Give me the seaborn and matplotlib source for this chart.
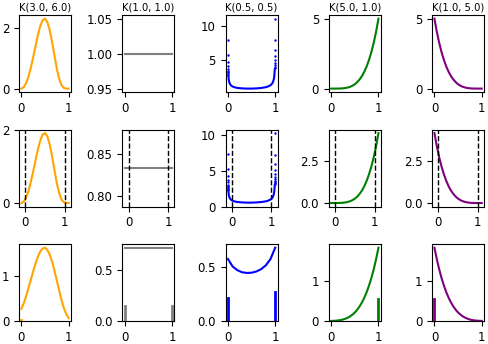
import numpy as np
import seaborn as sns
import matplotlib
matplotlib.use("Agg")
import matplotlib.pyplot as plt

# panel titles (top row only)
titles = ["K(3.0, 6.0)", "K(1.0, 1.0)", "K(0.5, 0.5)", "K(5.0, 1.0)", "K(1.0, 5.0)"]
colors = ["orange", "gray", "blue", "green", "purple"]

# sample positions
x_unit = [0, 0.05, 0.1, 0.15, 0.2, 0.25, 0.3, 0.35, 0.4, 0.45, 0.5,
          0.55, 0.6, 0.65, 0.7, 0.75, 0.8, 0.85, 0.9, 0.95, 1.0]
x_stretch = [-0.1, -0.04, 0.02, 0.08, 0.14, 0.2, 0.26, 0.32, 0.38, 0.44, 0.5,
             0.56, 0.62, 0.68, 0.74, 0.8, 0.86, 0.92, 0.98, 1.04, 1.1]

# row 1: plain densities
k36_pdf = [0, 0.045, 0.18, 0.40, 0.69, 1.04, 1.41, 1.77, 2.07, 2.26, 2.31,
           2.19, 1.92, 1.53, 1.08, 0.65, 0.32, 0.11, 0.02, 0.0, 0]
k51_pdf = [0, 0, 0.0005, 0.0025, 0.008, 0.02, 0.04, 0.075, 0.128, 0.205, 0.31,
           0.46, 0.65, 0.89, 1.20, 1.58, 2.05, 2.61, 3.28, 4.07, 5.0]
k15_pdf = [5.0, 4.07, 3.28, 2.61, 2.05, 1.58, 1.20, 0.89, 0.65, 0.46, 0.31,
           0.205, 0.128, 0.075, 0.04, 0.02, 0.008, 0.0025, 0.0005, 0, 0]
k11_x = [0, 1]
k11_pdf = [1.0, 1.0]

# K(0.5, 0.5): smooth middle part plus separated dots near the ends
u_mid_x = [0.01, 0.02, 0.03, 0.05, 0.075, 0.1, 0.15, 0.2, 0.3, 0.4, 0.5,
           0.6, 0.7, 0.8, 0.85, 0.9, 0.93, 0.95, 0.97, 0.98, 0.99]
u_mid_y = [2.64, 1.91, 1.59, 1.27, 1.07, 0.96, 0.83, 0.75, 0.68, 0.65, 0.65,
           0.68, 0.74, 0.86, 0.97, 1.16, 1.37, 1.61, 2.07, 2.52, 3.55]
u_tail_x = [0.001, 0.002, 0.003, 0.004, 0.005, 0.006, 0.007, 0.008, 0.009,
            0.991, 0.992, 0.993, 0.994, 0.995, 0.996, 0.997, 0.998, 0.999]
u_tail_y = [8.03, 5.72, 4.69, 4.08, 3.67, 3.36, 3.12, 2.93, 2.77,
            3.73, 3.95, 4.23, 4.56, 5.00, 5.59, 6.46, 7.91, 11.18]

# row 2: stretched to (-0.1, 1.1)
k36_str = [0, 0.04, 0.15, 0.33, 0.58, 0.87, 1.18, 1.48, 1.72, 1.88, 1.92,
           1.83, 1.60, 1.27, 0.90, 0.54, 0.27, 0.09, 0.02, 0.0, 0]
k51_str = [0, 0, 0, 0.002, 0.007, 0.016, 0.034, 0.063, 0.107, 0.171, 0.26,
           0.38, 0.54, 0.74, 1.0, 1.32, 1.71, 2.18, 2.73, 3.39, 4.17]
k15_str = [4.17, 3.39, 2.73, 2.18, 1.71, 1.32, 1.0, 0.74, 0.54, 0.38, 0.26,
           0.171, 0.107, 0.063, 0.034, 0.016, 0.007, 0.002, 0, 0, 0]
k11_str_x = [-0.1, 1.1]
k11_str = [0.833, 0.833]
s_mid_x = [-0.088, -0.076, -0.064, -0.04, -0.01, 0.02, 0.08, 0.14, 0.26, 0.38, 0.5,
           0.62, 0.74, 0.86, 0.92, 0.98, 1.016, 1.04, 1.064, 1.076, 1.088]
s_mid_y = [2.20, 1.59, 1.32, 1.06, 0.89, 0.80, 0.69, 0.63, 0.57, 0.54, 0.54,
           0.57, 0.62, 0.72, 0.81, 0.97, 1.14, 1.34, 1.72, 2.10, 2.96]
s_tail_x = [-0.099, -0.098, -0.097, -0.096, -0.095, -0.094, -0.093, -0.092, -0.091, -0.090, -0.089,
            1.089, 1.090, 1.091, 1.092, 1.093, 1.094, 1.095, 1.096, 1.097, 1.098, 1.099]
s_tail_y = [7.32, 5.21, 4.28, 3.72, 3.34, 3.06, 2.84, 2.66, 2.52, 2.39, 2.29,
            3.08, 3.23, 3.40, 3.61, 3.86, 4.17, 4.56, 5.10, 5.89, 7.22, 10.21]

# row 3: rectified, density inside (0, 1) plus point masses at the edges
k36_hard = [0.27, 0.39, 0.55, 0.73, 0.91, 1.10, 1.27, 1.42, 1.54, 1.60, 1.62,
            1.57, 1.46, 1.31, 1.11, 0.89, 0.67, 0.46, 0.28, 0.15, 0.065]
k51_hard = [0.001, 0.003, 0.007, 0.013, 0.022, 0.036, 0.055, 0.080, 0.114, 0.157, 0.21,
            0.278, 0.36, 0.458, 0.576, 0.715, 0.878, 1.067, 1.285, 1.535, 1.82]
k15_hard = [1.82, 1.535, 1.285, 1.067, 0.878, 0.715, 0.576, 0.458, 0.36, 0.278, 0.21,
            0.157, 0.114, 0.080, 0.055, 0.036, 0.022, 0.013, 0.007, 0.003, 0.001]
k11_hard = [0.714, 0.714]
k55_hard_x = [0, 0.1, 0.2, 0.3, 0.4, 0.5, 0.6, 0.7, 0.8, 0.9, 1.0]
k55_hard = [0.569, 0.50, 0.466, 0.447, 0.441, 0.443, 0.454, 0.475, 0.51, 0.568, 0.673]
# point masses at 0 and 1 for each column
mass_0 = [0.017, 0.145, 0.21, 0.0, 0.54]
mass_1 = [0.003, 0.145, 0.27, 0.54, 0.0]

# yticks per panel
yticks = [
    [[0, 2], [0.95, 1.00, 1.05], [5, 10], [0, 5], [0, 5]],
    [[0, 2], [0.80, 0.85], [0, 5, 10], [0.0, 2.5], [0.0, 2.5]],
    [[0, 1], [0.0, 0.5], [0.0, 0.5], [0, 1], [0, 1]],
]

plt.rcParams["font.family"] = ["DejaVu Sans"]
fig, axes = plt.subplots(3, 5, figsize=(4.88, 3.44), dpi=100)
fig.subplots_adjust(left=0.039, right=0.992, top=0.956, bottom=0.067,
                    wspace=0.985, hspace=0.487)

lw = 1.5


def line(ax, x, y, c):
    sns.lineplot(x=x, y=y, ax=ax, color=c, lw=lw, estimator=None, sort=False)


def dots(ax, x, y, c):
    sns.scatterplot(x=x, y=y, ax=ax, color=c, s=3, linewidth=0)


# row 1
line(axes[0, 0], x_unit, k36_pdf, colors[0])
line(axes[0, 1], k11_x, k11_pdf, colors[1])
line(axes[0, 2], u_mid_x, u_mid_y, colors[2])
dots(axes[0, 2], u_tail_x, u_tail_y, colors[2])
line(axes[0, 3], x_unit, k51_pdf, colors[3])
line(axes[0, 4], x_unit, k15_pdf, colors[4])

# row 2
line(axes[1, 0], x_stretch, k36_str, colors[0])
line(axes[1, 1], k11_str_x, k11_str, colors[1])
line(axes[1, 2], s_mid_x, s_mid_y, colors[2])
dots(axes[1, 2], s_tail_x, s_tail_y, colors[2])
line(axes[1, 3], x_stretch, k51_str, colors[3])
line(axes[1, 4], x_stretch, k15_str, colors[4])
for ax in axes[1]:
    ax.axvline(0, color="k", ls="--", lw=1)
    ax.axvline(1, color="k", ls="--", lw=1)

# row 3
line(axes[2, 0], x_unit, k36_hard, colors[0])
line(axes[2, 1], k11_x, k11_hard, colors[1])
line(axes[2, 2], k55_hard_x, k55_hard, colors[2])
line(axes[2, 3], x_unit, k51_hard, colors[3])
line(axes[2, 4], x_unit, k15_hard, colors[4])
for j, ax in enumerate(axes[2]):
    if mass_0[j] > 0:
        ax.plot([0, 0], [0, mass_0[j]], color=colors[j], lw=2)
    if mass_1[j] > 0:
        ax.plot([1, 1], [0, mass_1[j]], color=colors[j], lw=2)
    ax.set_ylim(bottom=0)

for j, t in enumerate(titles):
    axes[0, j].set_title(t, fontsize=7.2, pad=3.5)

for i in range(3):
    for j in range(5):
        ax = axes[i, j]
        ax.set_xticks([0, 1])
        ax.set_yticks(yticks[i][j])
        ax.tick_params(labelsize=8.5)
        ax.set_xlabel("")
        ax.set_ylabel("")

fig.savefig("out.png", dpi=100)
